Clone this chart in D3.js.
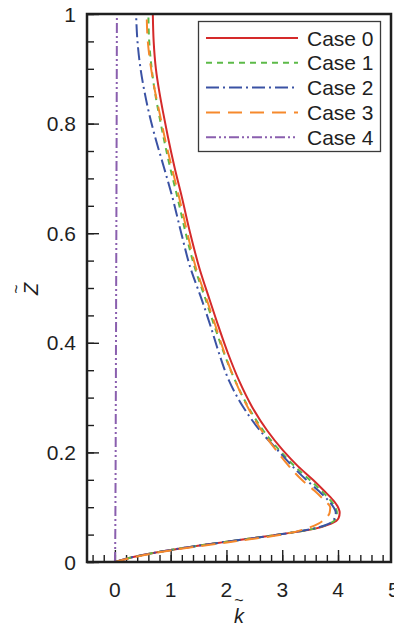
<!DOCTYPE html>
<html>
<head>
<meta charset="utf-8">
<script src="https://cdn.jsdelivr.net/npm/d3@7"></script>
<style>
  html, body { margin: 0; padding: 0; background: #fff; }
  svg { display: block; font-family: "Liberation Sans", Arial, Helvetica, sans-serif; }
</style>
</head>
<body>
<svg id="chart" width="394" height="630"></svg>
<script>
// Wall-normal height (shared by every case)
const zLevels = [0, 0.01, 0.022, 0.037, 0.051, 0.06, 0.07, 0.08, 0.09, 0.10,
                 0.113, 0.13, 0.15, 0.175, 0.204, 0.24, 0.283, 0.33, 0.38, 0.429,
                 0.478, 0.538, 0.60, 0.666, 0.72, 0.776, 0.82, 0.856, 0.9, 0.95, 1.0];

// Turbulent kinetic energy profiles, one array per case
const case0 = [0, 0.37, 1.0, 2.0, 3.0, 3.55, 3.88, 4.01, 4.03, 4.00,
               3.91, 3.75, 3.55, 3.28, 3.01, 2.73, 2.46, 2.23, 2.03, 1.86,
               1.70, 1.51, 1.35, 1.20, 1.07, 0.95, 0.865, 0.80, 0.735, 0.695, 0.68];
const case1 = [0, 0.37, 1.0, 2.0, 3.0, 3.53, 3.85, 3.96, 3.98, 3.95,
               3.86, 3.70, 3.49, 3.22, 2.95, 2.66, 2.39, 2.16, 1.96, 1.79,
               1.63, 1.43, 1.27, 1.12, 0.99, 0.87, 0.785, 0.72, 0.66, 0.615, 0.60];
const case2 = [0, 0.37, 1.0, 2.0, 3.0, 3.52, 3.84, 3.94, 3.96, 3.92,
               3.82, 3.65, 3.43, 3.18, 2.92, 2.60, 2.30, 2.05, 1.87, 1.72,
               1.56, 1.35, 1.19, 1.03, 0.88, 0.72, 0.61, 0.535, 0.46, 0.405, 0.38];
const case3 = [0, 0.40, 1.05, 2.1, 3.05, 3.40, 3.65, 3.78, 3.85, 3.86,
               3.75, 3.58, 3.35, 3.12, 2.89, 2.63, 2.38, 2.16, 1.97, 1.81,
               1.65, 1.45, 1.30, 1.15, 1.02, 0.89, 0.80, 0.725, 0.65, 0.59, 0.57];
const case4 = [0, 0.003, 0.005, 0.006, 0.007, 0.008, 0.008, 0.009, 0.009, 0.01,
               0.01, 0.011, 0.012, 0.013, 0.014, 0.015, 0.016, 0.018, 0.019, 0.021,
               0.022, 0.024, 0.026, 0.028, 0.029, 0.031, 0.032, 0.033, 0.034, 0.035, 0.036];

const caseNames = ["Case 0", "Case 1", "Case 2", "Case 3", "Case 4"];
const caseValues = [case0, case1, case2, case3, case4];
const caseColors = ["#d52a2a", "#5cba48", "#3a52a4", "#f6892c", "#8a5fae"];
const caseDashes = [null, "6,5", "13,4,2,4", "14,8", "10,3,2,3,2,3"];

const xTickValues = [0, 1, 2, 3, 4, 5];
const yTickValues = [0, 0.2, 0.4, 0.6, 0.8, 1];
const yTickLabels = ["0", "0.2", "0.4", "0.6", "0.8", "1"];

const svg = d3.select("#chart");
const plot = { left: 87, right: 391, top: 14, bottom: 562 };

const x = d3.scaleLinear().domain([-0.5, 4.95]).range([plot.left, plot.right]);
const y = d3.scaleLinear().domain([0, 1]).range([plot.bottom, plot.top]);

const ink = "#1f1f1f";
const fontSize = 21;

// clip for the curves
svg.append("defs").append("clipPath").attr("id", "plotClip")
  .append("rect")
  .attr("x", plot.left).attr("y", plot.top)
  .attr("width", plot.right - plot.left).attr("height", plot.bottom - plot.top);

// minor + major ticks, all pointing into the plot
const xMinor = d3.range(-0.4, 4.95, 0.2).map(v => +v.toFixed(2));
const yMinor = d3.range(0, 1.0001, 0.05).map(v => +v.toFixed(2));

const xAxisMinor = d3.axisTop(x).tickValues(xMinor).tickSize(7).tickFormat("");
const xAxisMajor = d3.axisTop(x).tickValues(xTickValues.filter(v => v <= 4.95)).tickSize(12).tickFormat("");
const yAxisMinor = d3.axisRight(y).tickValues(yMinor).tickSize(7).tickFormat("");
const yAxisMajor = d3.axisRight(y).tickValues(yTickValues).tickSize(12).tickFormat("");

[xAxisMinor, xAxisMajor].forEach(ax => {
  const g = svg.append("g").attr("transform", `translate(0,${plot.bottom})`).call(ax);
  g.select(".domain").remove();
  g.selectAll("line").attr("stroke", ink).attr("stroke-width", 1.4);
});
[yAxisMinor, yAxisMajor].forEach(ax => {
  const g = svg.append("g").attr("transform", `translate(${plot.left},0)`).call(ax);
  g.select(".domain").remove();
  g.selectAll("line").attr("stroke", ink).attr("stroke-width", 1.4);
});

// tick labels
svg.append("g").selectAll("text").data(xTickValues).join("text")
  .attr("x", d => x(d)).attr("y", 597)
  .attr("text-anchor", "middle")
  .attr("font-size", fontSize).attr("fill", ink)
  .text(d => d);

svg.append("g").selectAll("text").data(yTickValues).join("text")
  .attr("x", 76).attr("y", d => y(d))
  .attr("dy", "0.36em")
  .attr("text-anchor", "end")
  .attr("font-size", fontSize).attr("fill", ink)
  .text((d, i) => yTickLabels[i]);

// profiles
const line = d3.line()
  .x(d => x(d[0]))
  .y(d => y(d[1]))
  .curve(d3.curveMonotoneY);

const curves = svg.append("g").attr("clip-path", "url(#plotClip)");
caseValues.forEach((vals, i) => {
  const pts = vals.map((k, j) => [k, zLevels[j]]);
  curves.append("path")
    .datum(pts)
    .attr("d", line)
    .attr("fill", "none")
    .attr("stroke", caseColors[i])
    .attr("stroke-width", 2)
    .attr("stroke-dasharray", caseDashes[i]);
});

// frame
svg.append("rect")
  .attr("x", plot.left).attr("y", plot.top)
  .attr("width", plot.right - plot.left).attr("height", plot.bottom - plot.top)
  .attr("fill", "none").attr("stroke", ink).attr("stroke-width", 2.5);

// legend
const legend = svg.append("g");
legend.append("rect")
  .attr("x", 198.5).attr("y", 21.5).attr("width", 182).attr("height", 130)
  .attr("fill", "#fff").attr("stroke", "#3a3a3a").attr("stroke-width", 1.3);
caseNames.forEach((name, i) => {
  const ly = 38 + i * 24.8;
  legend.append("line")
    .attr("x1", 206).attr("x2", 298).attr("y1", ly).attr("y2", ly)
    .attr("stroke", caseColors[i]).attr("stroke-width", 2)
    .attr("stroke-dasharray", caseDashes[i]);
  legend.append("text")
    .attr("x", 307).attr("y", ly).attr("dy", "0.36em")
    .attr("font-size", fontSize).attr("fill", ink)
    .text(name);
});

// axis titles
const xt = svg.append("g").attr("transform", "translate(239,623)");
xt.append("text").attr("text-anchor", "middle").attr("font-size", 20)
  .attr("font-style", "italic").attr("fill", ink).text("k");
xt.append("text").attr("text-anchor", "middle").attr("y", -17).attr("font-size", 16)
  .attr("fill", ink).text("~");

const yt = svg.append("g").attr("transform", "translate(38,289) rotate(-90)");
yt.append("text").attr("text-anchor", "middle").attr("font-size", 20)
  .attr("font-style", "italic").attr("fill", ink).text("Z");
yt.append("text").attr("text-anchor", "middle").attr("y", -16).attr("font-size", 16)
  .attr("fill", ink).text("~");
</script>
</body>
</html>
